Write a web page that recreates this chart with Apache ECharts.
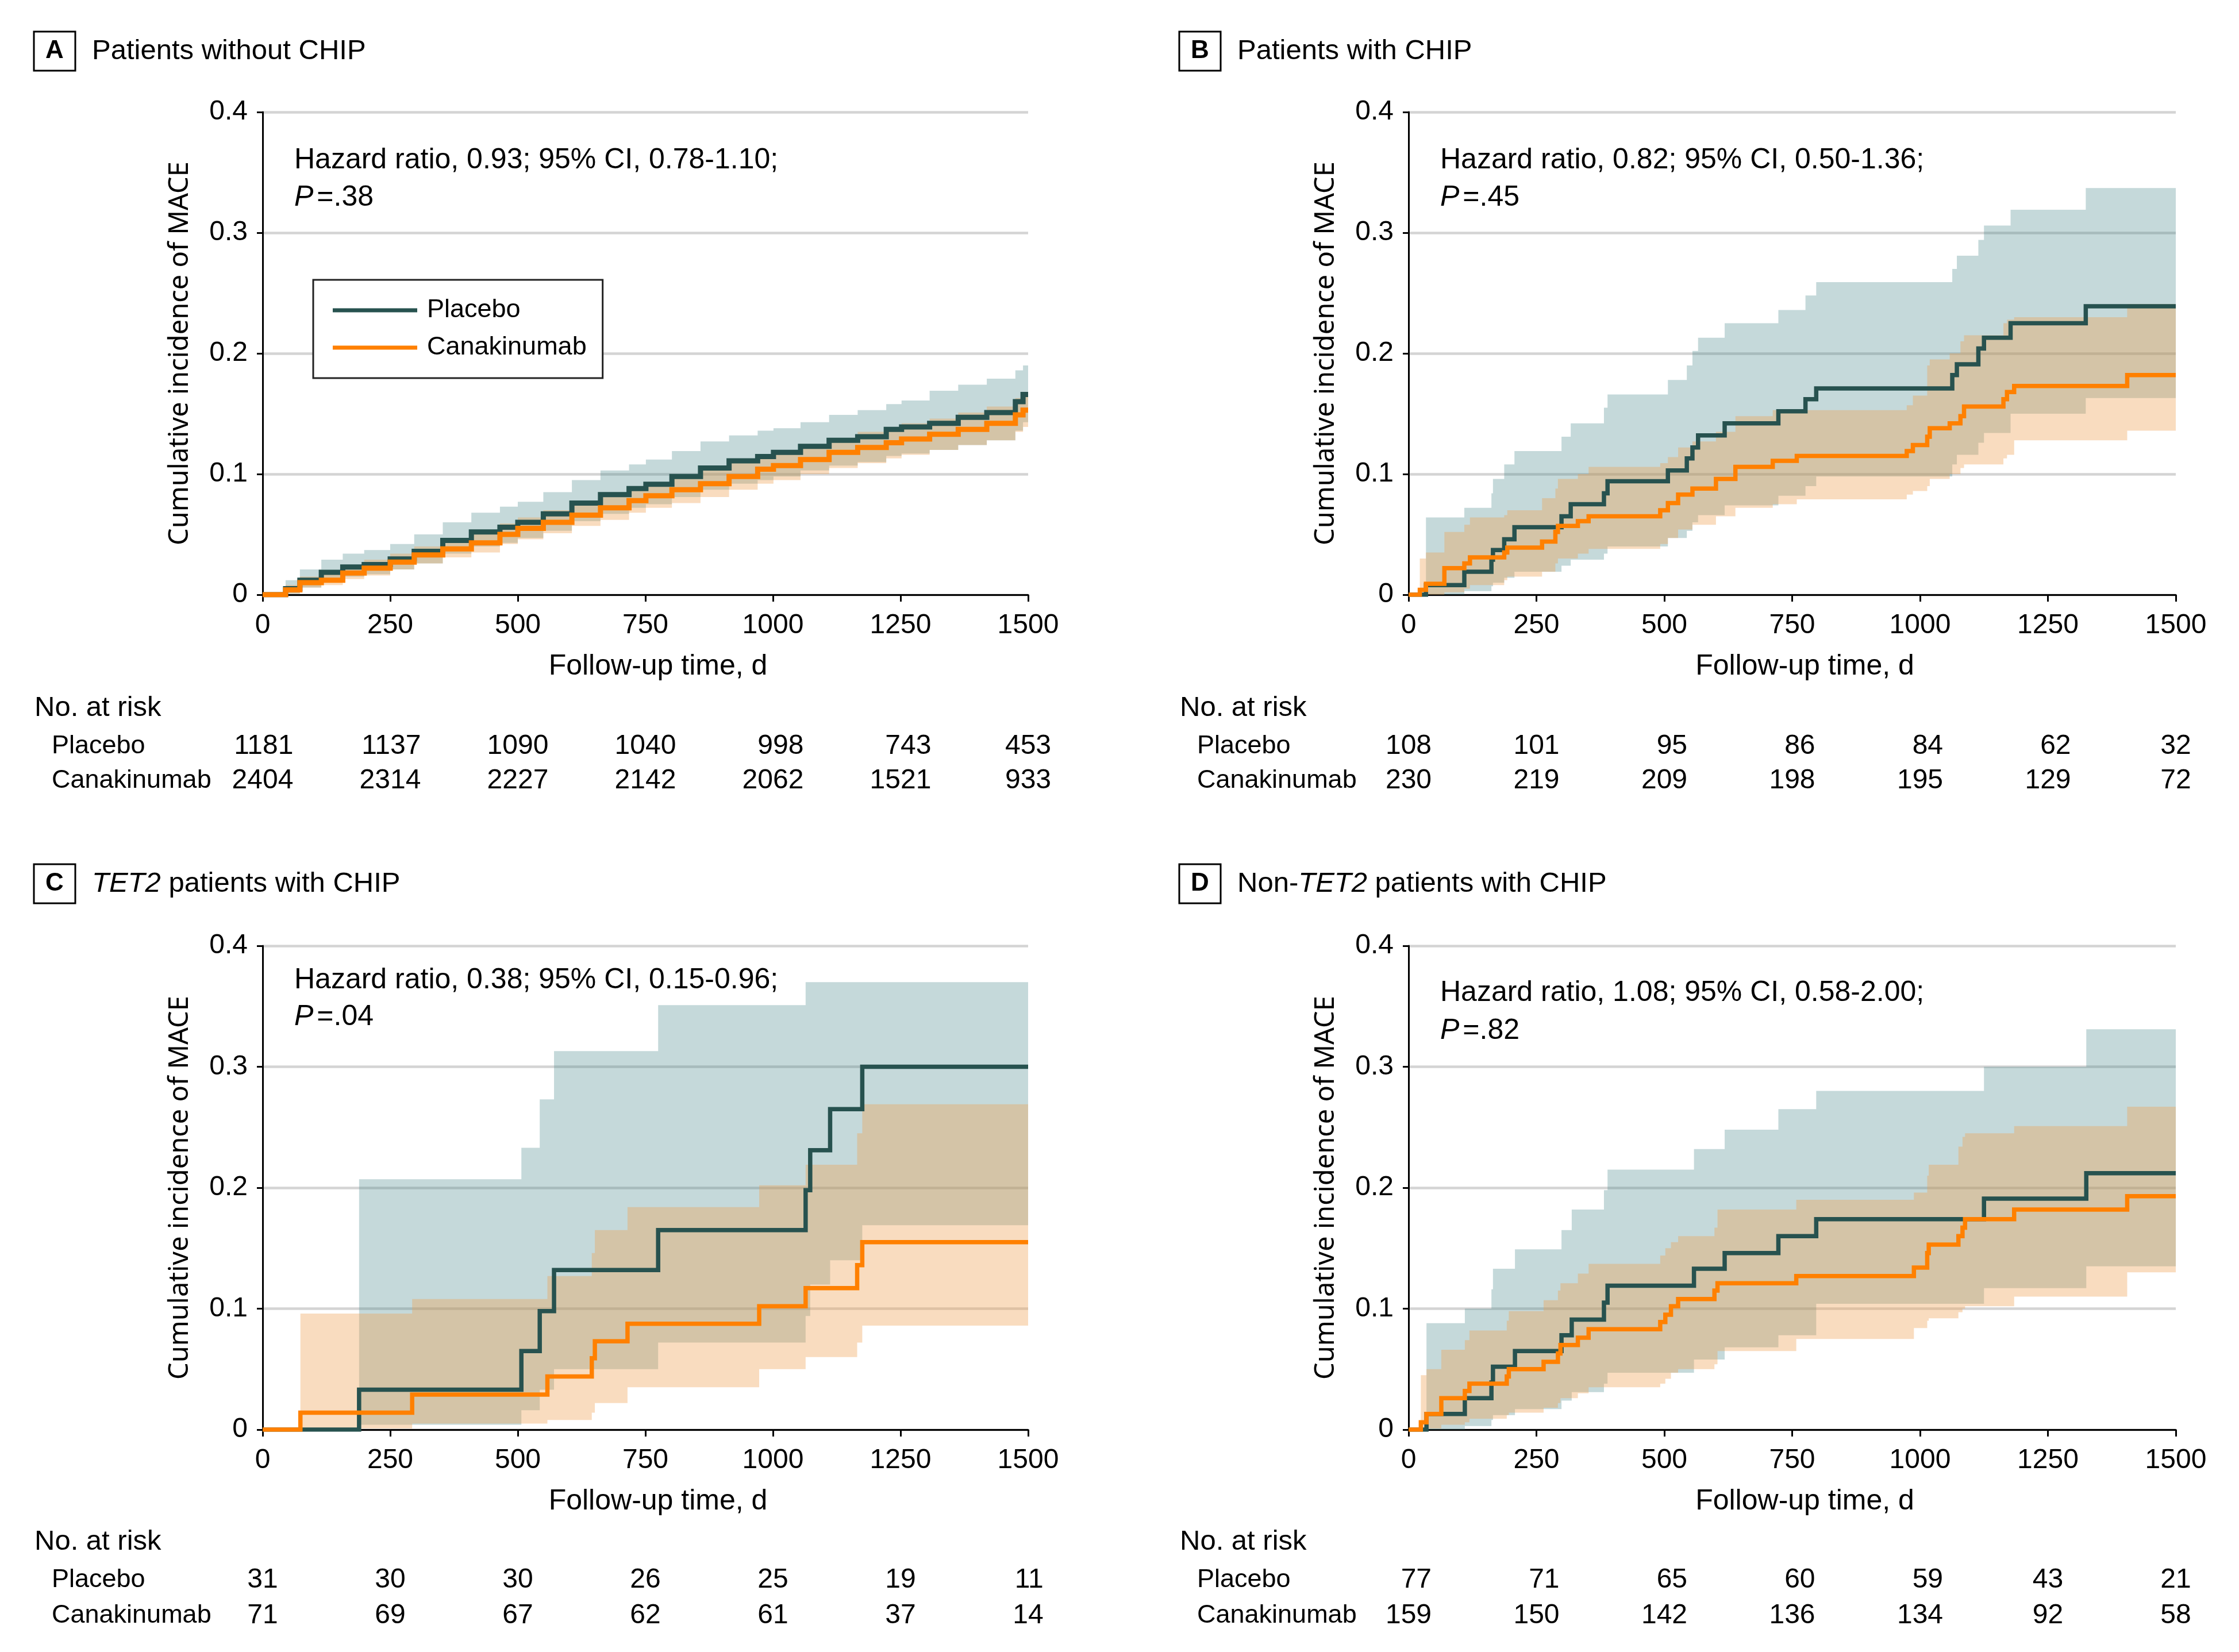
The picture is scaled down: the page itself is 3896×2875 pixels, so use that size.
<!DOCTYPE html>
<html><head><meta charset="utf-8">
<script src="https://cdn.jsdelivr.net/npm/echarts@6/dist/echarts.min.js"></script>
<style>html,body{margin:0;padding:0;background:#fff}#c{width:3896px;height:2875px}</style>
</head><body><div id="c"></div>
<script>
// ---------------- data ----------------
const panelLetters = ['A', 'B', 'C', 'D'];
const panelTitles = ['Patients without CHIP', 'Patients with CHIP', '{i|TET2} patients with CHIP', 'Non-{i|TET2} patients with CHIP'];
const hrLine1 = ['Hazard ratio, 0.93; 95% CI, 0.78-1.10;', 'Hazard ratio, 0.82; 95% CI, 0.50-1.36;', 'Hazard ratio, 0.38; 95% CI, 0.15-0.96;', 'Hazard ratio, 1.08; 95% CI, 0.58-2.00;'];
const hrLine2 = ['=.38', '=.45', '=.04', '=.82'];
const seriesNames = ['Placebo', 'Canakinumab'];
const xName = 'Follow-up time, d';
const yName = 'Cumulative incidence of MACE';
const riskTitle = 'No. at risk';
const riskTimes = [0, 250, 500, 750, 1000, 1250, 1500];

// Panel A
const aT = [0,45,73,115,157,199,250,297,353,409,465,500,550,606,662,718,751,802,858,914,970,1001,1054,1110,1166,1222,1252,1307,1363,1419,1475,1490];
const aPlaceboE  = [0,.005,.012,.0186,.023,.025,.0296,.036,.045,.052,.056,.06,.067,.076,.083,.088,.0915,.098,.105,.111,.1145,.118,.123,.128,.131,.137,.139,.142,.147,.151,.16,.166];
const aPlaceboHi = [0,.012,.021,.029,.034,.037,.042,.05,.06,.068,.073,.077,.085,.095,.103,.108,.112,.119,.127,.132,.136,.138,.143,.149,.153,.158,.161,.169,.174,.179,.186,.19];
const aPlaceboLo = [0,.001,.006,.011,.015,.017,.021,.026,.034,.04,.043,.047,.053,.061,.067,.072,.075,.081,.087,.092,.095,.098,.103,.107,.11,.115,.117,.12,.124,.128,.136,.143];
const aCanakE  = [0,.004,.01,.012,.018,.022,.027,.033,.038,.043,.05,.055,.06,.066,.072,.078,.082,.087,.092,.098,.104,.107,.112,.118,.122,.126,.129,.133,.137,.142,.149,.153];
const aCanakHi = [0,.008,.015,.018,.024,.029,.034,.04,.046,.052,.059,.064,.07,.076,.082,.089,.093,.098,.103,.11,.116,.119,.124,.13,.135,.139,.142,.146,.151,.156,.163,.168];
const aCanakLo = [0,.001,.006,.008,.013,.016,.021,.026,.031,.035,.042,.046,.051,.057,.062,.068,.072,.076,.081,.087,.092,.095,.1,.105,.109,.113,.116,.12,.124,.128,.135,.139];
const riskAPlacebo = [1181,1137,1090,1040,998,743,453];
const riskACanak = [2404,2314,2227,2142,2062,1521,933];

// Panel B
const bPlaceboT  = [0,34,109,162,165,187,207,299,317,382,389,507,544,555,566,618,723,776,797,1063,1072,1114,1125,1177,1324];
const bPlaceboE  = [0,.008,.019,.029,.037,.046,.056,.065,.075,.084,.094,.103,.113,.122,.132,.142,.152,.162,.171,.182,.191,.204,.213,.225,.239];
const bPlaceboHi = [0,.064,.072,.084,.096,.108,.119,.131,.142,.155,.166,.178,.19,.202,.213,.225,.236,.248,.259,.27,.281,.294,.306,.319,.337];
const bPlaceboLo = [0,0,.003,.007,.01,.014,.019,.024,.029,.034,.04,.047,.053,.06,.066,.074,.082,.09,.098,.108,.116,.126,.134,.15,.163];
const bCanakT  = [0,22,34,70,109,120,187,193,261,287,292,331,352,492,507,527,555,601,639,712,759,974,986,1014,1019,1058,1079,1086,1163,1170,1184,1405];
const bCanakE  = [0,.004,.009,.022,.026,.031,.035,.039,.044,.052,.057,.061,.065,.07,.076,.083,.088,.096,.106,.111,.115,.119,.124,.131,.138,.142,.148,.156,.162,.168,.173,.182];
const bCanakHi = [0,.03,.035,.052,.058,.064,.066,.07,.08,.088,.096,.1,.106,.109,.114,.122,.127,.135,.148,.153,.153,.157,.165,.19,.195,.2,.21,.215,.225,.228,.23,.241];
const bCanakLo = [0,0,0,.002,.005,.008,.012,.015,.019,.026,.03,.034,.038,.042,.047,.054,.058,.065,.072,.075,.079,.083,.086,.09,.096,.1,.105,.108,.113,.116,.128,.136];
const riskBPlacebo = [108,101,95,86,84,62,32];
const riskBCanak = [230,219,209,198,195,129,72];

// Panel C
const cPlaceboT  = [0,189,507,543,571,775,1064,1073,1112,1175];
const cPlaceboE  = [0,.033,.065,.098,.132,.165,.198,.231,.265,.3];
const cPlaceboHi = [0,.207,.233,.273,.313,.351,.37,.37,.37,.37];
const cPlaceboLo = [0,.004,.016,.033,.05,.072,.094,.12,.14,.169];
const cCanakT  = [0,74,293,558,645,651,715,973,1064,1165,1175];
const cCanakE  = [0,.014,.029,.044,.059,.073,.0875,.102,.117,.136,.155];
const cCanakHi = [0,.096,.108,.127,.146,.165,.184,.202,.219,.245,.269];
const cCanakLo = [0,.001,.005,.008,.014,.022,.035,.05,.06,.072,.086];
const riskCPlacebo = [31,30,30,26,25,19,11];
const riskCCanak = [71,69,67,62,61,37,14];

// Panel D
const dPlaceboT  = [0,35,110,162,165,208,299,319,382,389,558,618,723,797,1125,1325];
const dPlaceboE  = [0,.013,.026,.039,.052,.065,.078,.091,.105,.119,.133,.146,.16,.174,.191,.212];
const dPlaceboHi = [0,.088,.1,.116,.133,.149,.165,.182,.198,.215,.232,.248,.265,.28,.3,.331];
const dPlaceboLo = [0,0,.003,.008,.012,.017,.024,.031,.038,.047,.058,.068,.078,.104,.117,.135];
const dCanakT  = [0,24,35,64,110,119,192,196,264,292,297,331,352,492,502,513,527,598,604,758,988,1014,1017,1075,1083,1088,1184,1405];
const dCanakE  = [0,.006,.013,.026,.032,.038,.044,.05,.056,.063,.07,.076,.083,.089,.095,.102,.108,.115,.121,.127,.134,.146,.153,.16,.167,.174,.182,.193];
const dCanakHi = [0,.045,.05,.066,.074,.082,.09,.098,.107,.115,.121,.129,.137,.144,.15,.155,.16,.167,.182,.19,.196,.21,.219,.234,.242,.245,.251,.267];
const dCanakLo = [0,0,.001,.004,.006,.009,.012,.014,.018,.022,.026,.03,.035,.038,.042,.047,.05,.054,.065,.075,.084,.09,.092,.097,.1,.102,.11,.13];
const riskDPlacebo = [77,71,65,60,59,43,21];
const riskDCanak = [159,150,142,136,134,92,58];

// ---------------- assembly ----------------
const panels = [
  {T:[aT, aT], E:[aPlaceboE, aCanakE], Hi:[aPlaceboHi, aCanakHi], Lo:[aPlaceboLo, aCanakLo], risk:[riskAPlacebo, riskACanak]},
  {T:[bPlaceboT, bCanakT], E:[bPlaceboE, bCanakE], Hi:[bPlaceboHi, bCanakHi], Lo:[bPlaceboLo, bCanakLo], risk:[riskBPlacebo, riskBCanak]},
  {T:[cPlaceboT, cCanakT], E:[cPlaceboE, cCanakE], Hi:[cPlaceboHi, cCanakHi], Lo:[cPlaceboLo, cCanakLo], risk:[riskCPlacebo, riskCCanak]},
  {T:[dPlaceboT, dCanakT], E:[dPlaceboE, dCanakE], Hi:[dPlaceboHi, dCanakHi], Lo:[dPlaceboLo, dCanakLo], risk:[riskDPlacebo, riskDCanak]}
];

const FONT = '"Liberation Sans", Arial, sans-serif';
const YFONT = '"Noto Sans", "Open Sans", sans-serif';
const LINE_COLORS = ['#27524f', '#ff8000'];
const BAND_COLORS = ['rgba(62,128,132,0.30)', 'rgba(239,160,82,0.37)'];
const XMAX = 1500;

const geo = [
  {left: 457,  top: 195,  width: 1332, height: 840, x0: 59,   titleY: 89,   hrY: [279, 344],   riskY: [1232, 1299, 1359], lw: 9},
  {left: 2451, top: 195,  width: 1335, height: 840, x0: 2052, titleY: 89,   hrY: [279, 344],   riskY: [1232, 1299, 1359], lw: 7.5},
  {left: 457,  top: 1646, width: 1332, height: 842, x0: 59,   titleY: 1538, hrY: [1706, 1770], riskY: [2683, 2750, 2812], lw: 7.5},
  {left: 2451, top: 1646, width: 1335, height: 842, x0: 2052, titleY: 1538, hrY: [1728, 1794], riskY: [2683, 2750, 2812], lw: 7.5}
];

function bandRenderer(T, Lo, Hi, color) {
  return function (params, api) {
    if (params.dataIndex !== 0) return null;
    const n = T.length;
    const pts = [];
    for (let i = 0; i < n; i++) {
      const t1 = i + 1 < n ? T[i + 1] : XMAX;
      pts.push(api.coord([T[i], Hi[i]]), api.coord([t1, Hi[i]]));
    }
    for (let i = n - 1; i >= 0; i--) {
      const t1 = i + 1 < n ? T[i + 1] : XMAX;
      pts.push(api.coord([t1, Lo[i]]), api.coord([T[i], Lo[i]]));
    }
    return {type: 'polygon', shape: {points: pts}, style: {fill: color, stroke: null}};
  };
}

const grids = [], xAxes = [], yAxes = [], series = [], graphics = [];
panels.forEach((p, k) => {
  const g = geo[k];
  grids.push({left: g.left, top: g.top, width: g.width, height: g.height, containLabel: false, outerBoundsMode: 'none'});
  xAxes.push({
    gridIndex: k, type: 'value', min: 0, max: XMAX, interval: 250,
    axisLine: {show: true, onZero: false, lineStyle: {color: '#000', width: 3}},
    axisTick: {show: true, length: 12, lineStyle: {color: '#000', width: 3}},
    axisLabel: {fontSize: 48, color: '#000', fontFamily: FONT, margin: 30, formatter: v => String(v)},
    splitLine: {show: false},
    name: xName, nameLocation: 'middle', nameGap: 100,
    nameTextStyle: {fontSize: 50, color: '#000', fontFamily: FONT, padding: [0, 0, 0, 44]}
  });
  yAxes.push({
    gridIndex: k, type: 'value', min: 0, max: 0.4, interval: 0.1,
    axisLine: {show: true, lineStyle: {color: '#000', width: 3}},
    axisTick: {show: true, length: 10, lineStyle: {color: '#000', width: 3}},
    axisLabel: {fontSize: 48, color: '#000', fontFamily: FONT, margin: 26, formatter: v => String(v)},
    splitLine: {show: true, lineStyle: {color: '#d4d4d4', width: 4.5}},
    name: yName, nameLocation: 'middle', nameGap: 120,
    nameTextStyle: {fontSize: 47, color: '#000', fontFamily: YFONT}
  });
  for (let s = 0; s < 2; s++) {
    series.push({
      type: 'custom', xAxisIndex: k, yAxisIndex: k, z: 1 + s, silent: true,
      data: p.T[s].map((t, i) => [t, p.Lo[s][i], p.Hi[s][i]]),
      encode: {x: 0, y: [1, 2]},
      renderItem: bandRenderer(p.T[s], p.Lo[s], p.Hi[s], BAND_COLORS[s])
    });
  }
  for (let s = 0; s < 2; s++) {
    const d = p.T[s].map((t, i) => [t, p.E[s][i]]);
    d.push([XMAX, p.E[s][p.E[s].length - 1]]);
    series.push({
      type: 'line', name: seriesNames[s], xAxisIndex: k, yAxisIndex: k, z: 5 + s,
      step: 'end', symbol: 'none', showSymbol: false, silent: true, animation: false,
      data: d,
      itemStyle: {color: LINE_COLORS[s]},
      lineStyle: {color: LINE_COLORS[s], width: g.lw, join: 'miter', cap: 'butt'}
    });
  }
  // title box + letter + title text
  graphics.push({type: 'rect', shape: {x: g.x0, y: g.titleY - 34, width: 72, height: 68},
    style: {fill: 'none', stroke: '#000', lineWidth: 3}});
  graphics.push({type: 'text', x: g.x0 + 36, y: g.titleY,
    style: {text: panelLetters[k], fontSize: 44, fontWeight: 'bold', fontFamily: FONT, fill: '#000',
      align: 'center', verticalAlign: 'middle', textAlign: 'center', textVerticalAlign: 'middle'}});
  graphics.push({type: 'text', x: g.x0 + 101, y: g.titleY,
    style: {text: panelTitles[k], fontSize: 49, fontFamily: FONT, fill: '#000',
      align: 'left', verticalAlign: 'middle', textAlign: 'left', textVerticalAlign: 'middle',
      rich: {i: {fontStyle: 'italic', fontSize: 49, fontFamily: FONT, fill: '#000'}}}});
  // hazard ratio text
  graphics.push({type: 'text', x: g.left + 55, y: g.hrY[0],
    style: {text: hrLine1[k], fontSize: 50, fontFamily: FONT, fill: '#000',
      align: 'left', verticalAlign: 'middle', textAlign: 'left', textVerticalAlign: 'middle'}});
  graphics.push({type: 'text', x: g.left + 55, y: g.hrY[1],
    style: {text: '{i|P}' + hrLine2[k], fontSize: 50, fontFamily: FONT, fill: '#000',
      align: 'left', verticalAlign: 'middle', textAlign: 'left', textVerticalAlign: 'middle',
      rich: {i: {fontStyle: 'italic', fontSize: 50, fontFamily: FONT, fill: '#000', padding: [0, 6, 0, 0]}}}});
  // at-risk row labels
  graphics.push({type: 'text', x: g.x0 + 1, y: g.riskY[0],
    style: {text: riskTitle, fontSize: 49, fontFamily: FONT, fill: '#000',
      align: 'left', verticalAlign: 'middle', textAlign: 'left', textVerticalAlign: 'middle'}});
  for (let s = 0; s < 2; s++) {
    graphics.push({type: 'text', x: g.x0 + 31, y: g.riskY[s + 1],
      style: {text: seriesNames[s], fontSize: 45, fontFamily: FONT, fill: '#000',
        align: 'left', verticalAlign: 'middle', textAlign: 'left', textVerticalAlign: 'middle'}});
  }
});

const option = {
  backgroundColor: '#fff',
  animation: false,
  grid: grids,
  xAxis: xAxes,
  yAxis: yAxes,
  legend: {
    show: true, data: seriesNames, orient: 'vertical', left: 545, top: 487,
    padding: [26, 28, 26, 34], itemWidth: 147, itemHeight: 7, itemGap: 11, icon: 'rect',
    borderColor: '#222', borderWidth: 3, backgroundColor: '#fff', selectedMode: false,
    textStyle: {fontSize: 45, fontFamily: FONT, color: '#000', lineHeight: 54, padding: [0, 0, 0, 12]}
  },
  series: series,
  graphic: {elements: graphics}
};

const chart = echarts.init(document.getElementById('c'), null, {renderer: 'canvas', width: 3896, height: 2875});
chart.setOption(option);

// at-risk numbers positioned through the x axis scale
const ctx = document.createElement('canvas').getContext('2d');
ctx.font = '48px ' + FONT;
const riskGraphics = [];
panels.forEach((p, k) => {
  const g = geo[k];
  riskTimes.forEach((t, j) => {
    const cx = chart.convertToPixel({xAxisIndex: k}, t);
    const w = Math.max(ctx.measureText(String(p.risk[0][j])).width, ctx.measureText(String(p.risk[1][j])).width);
    for (let s = 0; s < 2; s++) {
      riskGraphics.push({type: 'text', x: cx + w / 2, y: g.riskY[s + 1],
        style: {text: String(p.risk[s][j]), fontSize: 48, fontFamily: FONT, fill: '#000',
          align: 'right', verticalAlign: 'middle', textAlign: 'right', textVerticalAlign: 'middle'}});
    }
  });
});
chart.setOption({graphic: {elements: graphics.concat(riskGraphics)}});
</script>
</body></html>
